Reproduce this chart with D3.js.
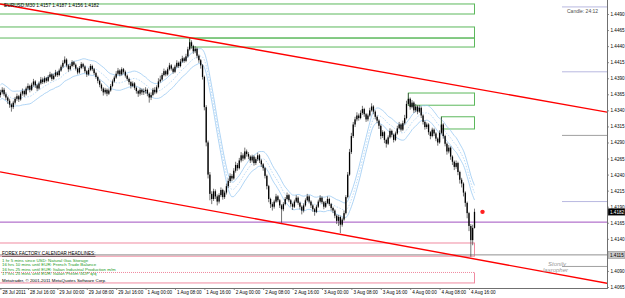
<!DOCTYPE html>
<html>
<head>
<meta charset="utf-8">
<script src="https://cdnjs.cloudflare.com/ajax/libs/d3/7.8.5/d3.min.js"></script>
<style>
  body { margin: 0; background: #fff; }
  svg { display: block; font-family: "Liberation Sans", Arial, sans-serif; }
  .axis text { fill: #000; font-size: 4.6px; }
  .axis line { stroke: #606060; stroke-width: 0.7; }
</style>
</head>
<body>
<svg id="chart" width="625" height="298"></svg>
<script>
// EURUSD M30, every price is in pips above 1.4000
var opens = [364,368,372,365,360,355,349,345,352,358,362,357,366,370,365,374,378,372,380,385,379,374,382,388,384,390,386,392,396,389,394,399,395,402,408,414,419,410,404,409,415,411,405,399,406,412,408,401,396,403,409,404,398,392,386,380,374,368,372,366,371,378,385,391,397,402,396,404,400,394,389,384,378,382,375,370,366,372,368,370,372,366,360,364,372,368,376,385,388,395,401,396,404,410,405,400,408,414,409,416,421,417,424,435,446,440,432,436,425,418,410,392,345,290,240,210,202,214,206,198,208,216,205,212,222,230,238,234,246,255,250,262,270,265,276,272,268,262,268,258,264,270,262,256,250,238,222,202,194,190,198,206,200,192,186,194,202,208,200,194,190,198,204,196,190,184,192,200,206,198,192,186,182,190,198,204,197,190,196,202,194,188,184,176,168,174,162,170,180,205,240,275,300,318,326,332,328,336,342,334,326,332,340,346,338,330,324,316,300,306,294,288,298,308,302,294,304,312,318,310,320,328,350,358,345,352,340,346,338,344,332,322,314,318,306,300,310,304,296,290,305,318,300,288,276,282,268,260,252,258,244,232,226,212,196,180,160,138,157]
var highs = [372,376,375,368,362,358,351,355,361,366,364,369,374,372,377,382,380,383,389,387,381,385,392,391,393,392,395,400,398,397,403,401,405,411,418,424,421,412,412,418,417,413,407,409,415,414,410,403,406,412,411,406,400,394,388,382,376,375,374,374,381,388,394,401,406,404,407,406,402,396,391,386,385,384,377,372,375,374,374,376,374,368,368,375,376,379,390,394,398,405,403,407,414,412,407,411,418,416,420,425,423,428,439,452,449,442,440,438,427,420,412,394,348,293,244,214,218,217,209,211,220,218,215,226,234,242,241,250,260,258,266,275,273,282,279,275,270,271,270,267,274,272,264,258,252,240,224,204,197,201,210,208,202,194,197,205,212,210,202,196,201,208,206,198,192,195,203,210,208,200,194,188,193,201,208,206,199,199,206,204,196,190,186,178,177,176,173,184,208,244,280,305,322,330,337,335,340,347,344,336,335,344,351,348,340,332,326,318,309,308,296,301,312,310,304,307,316,322,320,324,333,355,367,360,356,354,350,348,348,346,334,324,321,320,308,313,312,306,298,309,330,320,302,290,286,284,270,262,262,260,246,235,228,214,198,182,163,162,187]
var lows = [360,365,362,356,350,344,338,342,349,355,353,355,363,361,363,371,368,370,377,375,370,372,380,381,382,383,384,390,386,387,392,392,393,400,406,412,407,400,402,407,408,402,396,397,404,405,398,392,394,401,401,395,389,382,376,370,363,365,362,364,369,376,383,389,395,393,394,397,391,386,380,374,376,372,366,361,363,364,364,366,362,352,356,362,365,366,374,383,386,393,393,394,402,402,397,398,406,406,407,414,414,415,422,433,436,428,429,421,414,405,388,340,284,234,200,194,199,202,192,195,205,201,202,209,219,227,230,232,243,246,248,259,261,263,268,264,258,259,254,255,261,258,252,246,234,217,197,188,184,187,196,197,188,165,183,192,200,197,190,185,188,196,193,186,178,181,190,198,195,188,182,176,180,188,196,194,186,188,194,191,184,180,172,163,160,149,159,168,178,203,238,272,297,314,323,324,326,333,330,322,323,330,338,334,326,320,311,295,297,289,282,286,296,298,290,292,302,310,307,308,318,326,347,341,343,336,337,334,336,328,318,310,311,302,295,298,300,292,285,288,303,296,284,271,273,263,255,247,249,239,226,220,206,190,172,152,112,130,156]
var closes = [368,372,365,360,355,349,345,352,358,362,357,366,370,365,374,378,372,380,385,379,374,382,388,384,390,386,392,396,389,394,399,395,402,408,414,419,410,404,409,415,411,405,399,406,412,408,401,396,403,409,404,398,392,386,380,374,368,372,366,371,378,385,391,397,402,396,404,400,394,389,384,378,382,375,370,366,372,368,370,372,366,360,364,372,368,376,385,388,395,401,396,404,410,405,400,408,414,409,416,421,417,424,435,446,440,432,436,425,418,410,392,345,290,240,210,202,214,206,198,208,216,205,212,222,230,238,234,246,255,250,262,270,265,276,272,268,262,268,258,264,270,262,256,250,238,222,202,194,190,198,206,200,192,186,194,202,208,200,194,190,198,204,196,190,184,192,200,206,198,192,186,182,190,198,204,197,190,196,202,194,188,184,176,168,174,162,170,180,205,240,275,300,318,326,332,328,336,342,334,326,332,340,346,338,330,324,316,300,306,294,288,298,308,302,294,304,312,318,310,320,328,350,358,345,352,340,346,338,344,332,322,314,318,306,300,310,304,296,290,305,318,300,288,276,282,268,260,252,258,244,232,226,212,196,180,160,138,157,182]

// time axis: bar index of each label
var timeTickBars = [0, 15, 31, 47, 63, 79, 95, 111, 127, 143, 159, 175, 191, 207, 223, 239, 255]
var timeLabels = ["28 Jul 2011", "28 Jul 16:00", "29 Jul 00:00", "29 Jul 08:00", "29 Jul 16:00",
    "1 Aug 00:00", "1 Aug 08:00", "1 Aug 16:00", "2 Aug 00:00", "2 Aug 08:00", "2 Aug 16:00",
    "3 Aug 00:00", "3 Aug 08:00", "3 Aug 16:00", "4 Aug 00:00", "4 Aug 08:00", "4 Aug 16:00"]

// price axis ticks (pips)
var priceTicks = [490, 465, 440, 415, 390, 365, 340, 315, 290, 265, 240, 215, 190, 165, 140, 115, 90, 65]

// channel lines: [bar, pips] anchor pairs
var upperChannel = [[0, 505.5], [103, 453.0]]
var lowerChannel = [[0, 244.1], [256, 109.7]]

// rectangles: [fromBar, toBar, topPips, bottomPips]
var greenZones = [[-5, 258, 505.6, 490], [-5, 258, 469.8, 452.6], [103, 258, 452.6, 438.6],
    [222, 258, 367, 348], [240, 258, 330, 311]]
var pinkZones = [[-5, 258, 133.5, 113], [-5, 258, 87.6, 71.3]]
var pinkDotted = [87.6]

// horizontal levels
var levelPurple = 166
var levelGray = 115
var rightLevels = [[501, "#b8b8e0"], [400, "#b8b8e0"], [301, "#a0a0a0"], [198, "#b8b8e0"], [97, "#a0a0a0"]]

var headlines = ["1 hr 5 mins since USD: Natural Gas Storage",
    "16 hrs 10 mins until EUR: French Trade Balance",
    "16 hrs 25 mins until EUR: Italian Industrial Production m/m",
    "17 hrs 25 mins until EUR: Italian Prelim GDP q/q"]

var maPeriod = 14, envDeviation = 0.0008

var width = 607, height = 288
var svg = d3.select("#chart")
var fmt = function(d) { return (1.4 + d / 10000).toFixed(4) }

var x = d3.scaleLinear().domain([0, 258]).range([0.4, 474.5])
var y = d3.scaleLinear().domain([65, 490]).range([287, 14])

svg.append("clipPath").attr("id", "plot")
    .append("rect").attr("width", width).attr("height", height)

var plot = svg.append("g").attr("clip-path", "url(#plot)")

// zones
function drawZones(list, color) {
    plot.append("g").selectAll("rect").data(list).enter().append("rect")
        .attr("x", function(d) { return x(d[0]) })
        .attr("y", function(d) { return y(d[2]) })
        .attr("width", function(d) { return x(d[1]) - x(d[0]) })
        .attr("height", function(d) { return y(d[3]) - y(d[2]) })
        .style("fill", "none")
        .style("stroke", color)
        .style("stroke-width", 1)
}
drawZones(greenZones, "#5cb85c")
drawZones(pinkZones, "#f08aa0")
// dotted top edge of the lower pink zone
plot.append("g").selectAll("line").data(pinkDotted).enter().append("line")
    .attr("x1", 0).attr("x2", x(258))
    .attr("y1", function(d) { return y(d) }).attr("y2", function(d) { return y(d) })
    .style("stroke", "#fff").style("stroke-width", 1.2).style("stroke-dasharray", "1,1")

// horizontal levels
plot.append("line").attr("x1", 0).attr("x2", width)
    .attr("y1", y(levelPurple)).attr("y2", y(levelPurple))
    .style("stroke", "#a050c0").style("stroke-width", 1)
plot.append("line").attr("x1", 0).attr("x2", width)
    .attr("y1", y(levelGray)).attr("y2", y(levelGray))
    .style("stroke", "#909090").style("stroke-width", 1)
plot.append("g").selectAll("line").data(rightLevels).enter().append("line")
    .attr("x1", 562).attr("x2", width)
    .attr("y1", function(d) { return y(d[0]) })
    .attr("y2", function(d) { return y(d[0]) })
    .style("stroke", function(d) { return d[1] })
    .style("stroke-width", 1)

// moving average envelope
var ma = closes.map(function(c, i) {
    return d3.mean(closes.slice(Math.max(0, i - maPeriod + 1), i + 1))
})
var maPrice = ma.map(function(m) { return 14000 + m })
function envLine(k) {
    return d3.line()
        .x(function(d, i) { return x(i) })
        .y(function(d) { return y(d * (1 + k) - 14000) })
        .curve(d3.curveMonotoneX)(maPrice)
}
plot.append("path").attr("d", envLine(envDeviation))
    .style("fill", "none").style("stroke", "#9ccaf2").style("stroke-width", 0.8)
plot.append("path").attr("d", envLine(-envDeviation))
    .style("fill", "none").style("stroke", "#9ccaf2").style("stroke-width", 0.8)
plot.append("path").attr("d", envLine(0))
    .style("fill", "none").style("stroke", "#9ccaf2").style("stroke-width", 0.7)
    .style("stroke-dasharray", "1.5,1.5")

// candles
var bars = plot.append("g").selectAll("g").data(closes).enter().append("g")
bars.append("line")
    .attr("x1", function(d, i) { return x(i) })
    .attr("x2", function(d, i) { return x(i) })
    .attr("y1", function(d, i) { return y(highs[i]) })
    .attr("y2", function(d, i) { return y(lows[i]) })
    .style("stroke", "#383838").style("stroke-width", 0.7)
bars.append("rect")
    .attr("x", function(d, i) { return x(i) - 0.65 })
    .attr("width", 1.3)
    .attr("y", function(d, i) { return y(Math.max(opens[i], d)) })
    .attr("height", function(d, i) { return Math.max(0.6, Math.abs(y(opens[i]) - y(d))) })
    .style("fill", "#000")

// channel lines extended as rays
function ray(pts) {
    var slope = (pts[1][1] - pts[0][1]) / (pts[1][0] - pts[0][0])
    var b0 = x.invert(0), b1 = x.invert(625)
    return [[b0, pts[0][1] + slope * (b0 - pts[0][0])], [b1, pts[0][1] + slope * (b1 - pts[0][0])]]
}
var lineGen = d3.line().x(function(d) { return x(d[0]) }).y(function(d) { return y(d[1]) })
plot.append("path").attr("d", lineGen(ray(upperChannel)))
    .style("stroke", "#ff0000").style("stroke-width", 1.4).style("fill", "none")
plot.append("path").attr("d", lineGen(ray(lowerChannel)))
    .style("stroke", "#ff0000").style("stroke-width", 1.4).style("fill", "none")

// current price marker
var last = closes.length - 1
plot.append("circle").attr("cx", x(last) + 8).attr("cy", y(closes[last])).attr("r", 2.2)
    .style("fill", "#ff2020")

// axes
var yAxis = svg.append("g").attr("class", "axis")
    .attr("transform", "translate(" + width + ",0)")
    .call(d3.axisRight(y).tickValues(priceTicks).tickSize(2).tickPadding(1.5).tickFormat(fmt))
yAxis.select(".domain").remove()
svg.append("line").attr("x1", width + 0.5).attr("x2", width + 0.5).attr("y1", 0).attr("y2", height)
    .style("stroke", "#707070").style("stroke-width", 1)

var xAxis = svg.append("g").attr("class", "axis")
    .attr("transform", "translate(0," + height + ")")
    .call(d3.axisBottom(x).tickValues(timeTickBars).tickSize(2).tickFormat(function(d, i) { return timeLabels[i] }))
xAxis.select(".domain").remove()
xAxis.selectAll("text").attr("text-anchor", "start").attr("dx", 1.5).attr("y", 3)
svg.append("line").attr("x1", 0).attr("x2", width + 1).attr("y1", height + 0.5).attr("y2", height + 0.5)
    .style("stroke", "#707070").style("stroke-width", 1)

// price boxes
function priceBox(p, bg, fg) {
    var g = svg.append("g").attr("transform", "translate(" + (width + 1) + "," + y(p) + ")")
    g.append("rect").attr("x", 0).attr("y", -3.5).attr("width", 17).attr("height", 7).style("fill", bg)
        .style("stroke", "#808080").style("stroke-width", 0.5)
    g.append("text").attr("x", 2).attr("y", 1.7).text(fmt(p))
        .style("font-size", "4.6px").style("fill", fg)
}
priceBox(levelGray, "#c8c8c8", "#000")
priceBox(closes[last], "#000", "#fff")

// header and texts
svg.append("text").attr("x", 4).attr("y", 7)
    .text("EURUSD,M30  " + fmt(opens[last]) + " " + fmt(highs[last]) + " " + fmt(lows[last]) + " " + fmt(closes[last]))
    .style("font-size", "4.8px").style("fill", "#000")
svg.append("text").attr("x", 567).attr("y", 13).text("Candle:  24:12")
    .style("font-size", "5px").style("fill", "#505050")

svg.append("text").attr("x", 2).attr("y", 255).text("FOREX FACTORY CALENDAR HEADLINES:")
    .style("font-size", "4.6px").style("fill", "#000").style("text-decoration", "underline")
svg.append("g").selectAll("text").data(headlines).enter().append("text")
    .attr("x", 2).attr("y", function(d, i) { return 261.5 + i * 4.6 })
    .text(function(d) { return d })
    .style("font-size", "4.4px").style("fill", "#1c9a1c")
svg.append("text").attr("x", 2).attr("y", 281.5).text("Metatrader, \u00a9 2001-2011 MetaQuotes Software Corp.")
    .style("font-size", "4.4px").style("fill", "#000")

// watermark
svg.append("text").attr("x", 548).attr("y", 266).text("Stonily")
    .style("font-size", "6px").style("fill", "#9a9a9a").style("font-style", "italic")
svg.append("text").attr("x", 543).attr("y", 272).text("lasropher")
    .style("font-size", "6px").style("fill", "#9a9a9a").style("font-style", "italic")
</script>
</body>
</html>
